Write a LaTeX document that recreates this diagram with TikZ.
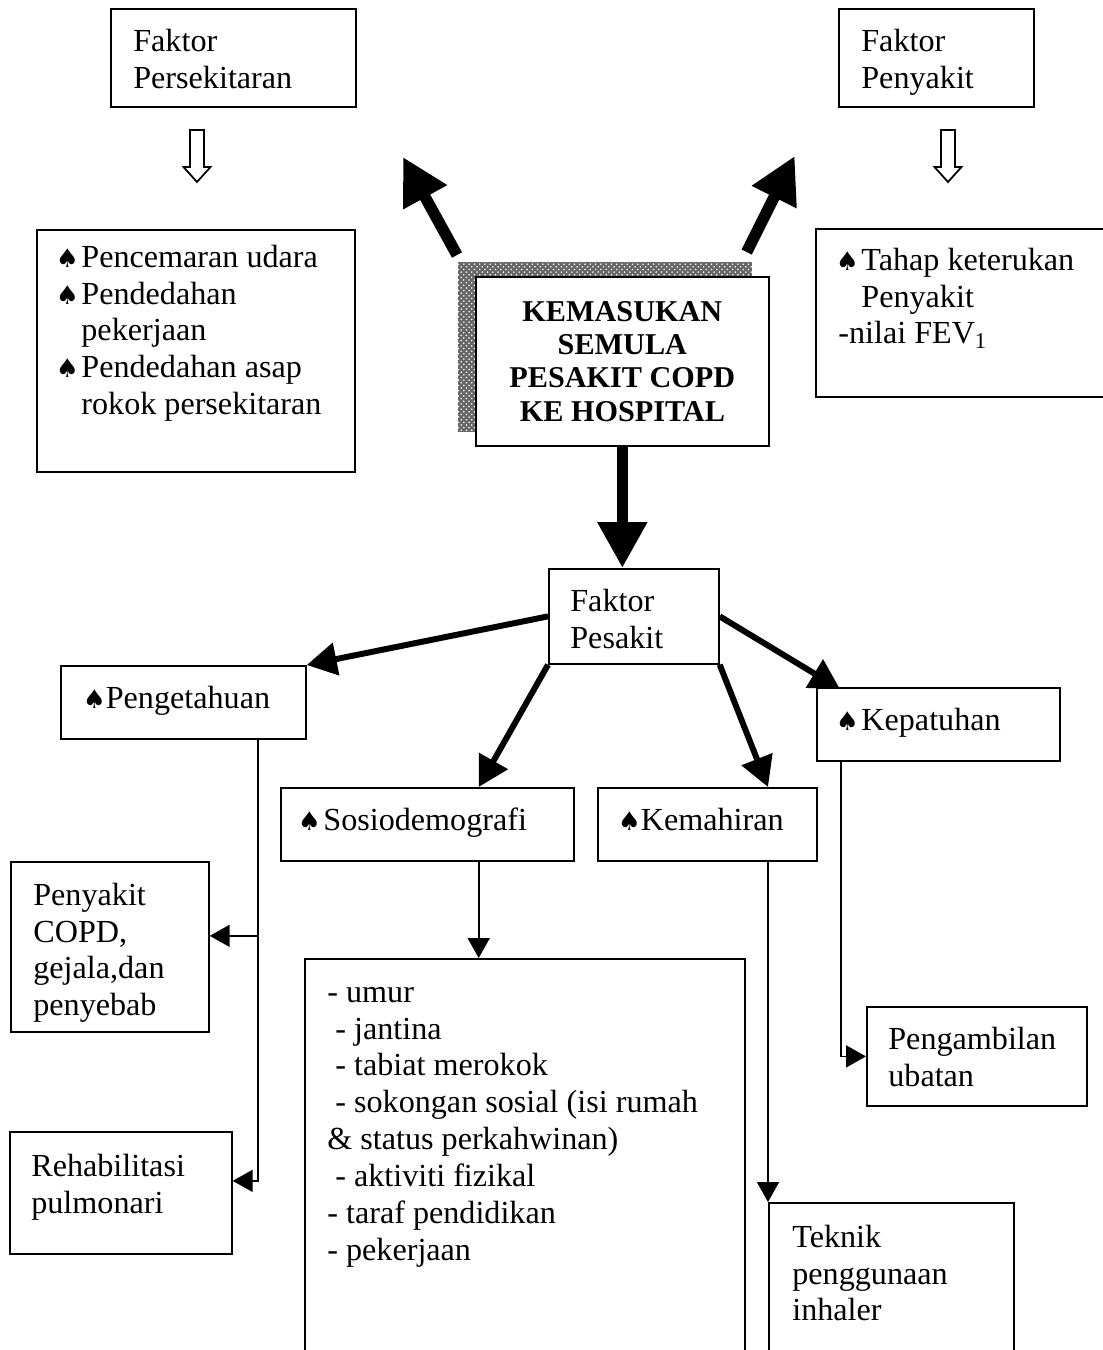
\documentclass[tikz,border=0pt]{standalone}
\usepackage{graphicx}
\usepackage{fontspec}
\setmainfont{Liberation Serif}
\newfontfamily\symfont{DejaVu Sans}
\usetikzlibrary{positioning,arrows.meta,calc,patterns}
\newcommand{\spade}{\kern-0.08em\scalebox{0.8}{\symfont ♠}}
\newcommand{\spd}{\spade\hspace{0.08em}}
\newcommand{\ind}{\hphantom{\spd}}

\begin{document}
\begin{tikzpicture}[
        x=0.02cm, y=-0.02cm,
        box/.style={draw, line width=1pt, anchor=north west, inner sep=0pt},
        txt/.style={font=\fontsize{18.3}{21}\selectfont, align=left, inner sep=0pt},
        thinarr/.style={line width=1pt, -{Triangle[length=4mm, width=4.4mm]}},
        medarr/.style={line width=3.4pt, -{Triangle[length=6mm, width=6.4mm]}},
        bigarr/.style={line width=6.5pt, -{Triangle[length=9.2mm, width=9.4mm]}}
    ]
        \clip (0,0) rectangle (1103,1350);

        % Top boxes
        \node[box, minimum width=49mm, minimum height=19.6mm] (fpers) at (110,8) {};
        \node[txt, below right=3.4mm and 4.6mm of fpers.north west] (fpers-t) {\strut Faktor\\Persekitaran};
        \node[box, minimum width=39mm, minimum height=19.6mm] (fpeny) at (838,8) {};
        \node[txt, below right=3.4mm and 4.6mm of fpeny.north west] (fpeny-t) {\strut Faktor\\Penyakit};

        % Hollow arrows
        \foreach \ax in {197,948}
            \draw[line width=1pt, line join=miter] (\ax-7,130) -- (\ax+7,130) -- (\ax+7,167) -- (\ax+13.5,167)
                -- (\ax,182) -- (\ax-13.5,167) -- (\ax-7,167) -- cycle;

        % Lists of factors
        \node[box, minimum width=63.6mm, minimum height=48.4mm] (envlist) at (36,229) {};
        \node[txt, below right=2.4mm and 4.4mm of envlist.north west] (envlist-t)
            {\strut\spd Pencemaran udara\\\spd Pendedahan\\\ind pekerjaan\\\spd Pendedahan asap\\\ind rokok persekitaran};
        \node[box, minimum width=59mm, minimum height=33.6mm] (dislist) at (815,228) {};
        \node[txt, below right=3.2mm and 4.6mm of dislist.north west] (dislist-t)
            {\strut\spd Tahap keterukan\\\ind Penyakit\\-nilai FEV\textsubscript{1}};

        % Central box with shadow
        \fill[black!60] (458,262) rectangle (752,432);
        \fill[pattern=crosshatch dots, pattern color=white] (458,262) rectangle (752,432);
        \node[box, fill=white, minimum width=58.6mm, minimum height=33.8mm, align=center,
            font=\fontsize{17.2}{19}\selectfont\bfseries] (hosp) at (475,276)
            {KEMASUKAN\\SEMULA\\PESAKIT COPD\\KE HOSPITAL};
        \coordinate (ltail) at ($(hosp.north west)+(-18,-21)$);
        \coordinate (lhead) at ($(hosp.north west)+(-72,-119)$);
        \coordinate (rtail) at ($(hosp.north east)+(-23,-24)$);
        \coordinate (rhead) at ($(hosp.north east)+(25,-120)$);
        \draw[bigarr] (ltail) -- (lhead);
        \draw[bigarr] (rtail) -- (rhead);

        % Patient factors
        \node[box, minimum width=34mm, minimum height=19mm] (fpes) at (548,568) {};
        \node[txt, below right=3.4mm and 4.4mm of fpes.north west] (fpes-t) {\strut Faktor\\Pesakit};
        \draw[bigarr] (hosp.south) -- (hosp.south |- fpes.north);

        \node[box, minimum width=49mm, minimum height=14.6mm] (peng) at (60,665) {};
        \node[txt, below right=3.4mm and 5mm of peng.north west] (peng-t) {\strut\spade Pengetahuan};
        \node[box, minimum width=48.6mm, minimum height=14.6mm] (kep) at (816,687) {};
        \node[txt, below right=3.4mm and 4.4mm of kep.north west] (kep-t) {\strut\spd Kepatuhan};
        \node[box, minimum width=58.6mm, minimum height=14.6mm] (sosio) at (280,787) {};
        \node[txt, below right=3.4mm and 4mm of sosio.north west] (sosio-t) {\strut\spd Sosiodemografi};
        \node[box, minimum width=43.8mm, minimum height=14.6mm] (kem) at (597,787) {};
        \node[txt, below right=3.4mm and 4.6mm of kem.north west] (kem-t) {\strut\spade Kemahiran};

        % Lower boxes
        \node[box, minimum width=39.6mm, minimum height=34mm] (copd) at (10,861) {};
        \node[txt, below right=3.6mm and 4.6mm of copd.north west] (copd-t) {\strut Penyakit\\COPD,\\gejala,dan\\penyebab};
        \node[box, minimum width=44.4mm, minimum height=24.4mm] (rehab) at (9,1131) {};
        \node[txt, below right=3.8mm and 4.4mm of rehab.north west] (rehab-t) {\strut Rehabilitasi\\pulmonari};
        \node[box, minimum width=88mm, minimum height=80.4mm] (demo) at (304,958) {};
        \node[txt, below right=3.6mm and 4.6mm of demo.north west] (demo-t)
            {\strut- umur\\\ - jantina\\\ - tabiat merokok\\\ - sokongan sosial (isi rumah\\\&~status perkahwinan)\\\ - aktiviti fizikal\\- taraf pendidikan\\- pekerjaan};
        \node[box, minimum width=49mm, minimum height=32mm] (tek) at (768,1202) {};
        \node[txt, below right=3.8mm and 4.8mm of tek.north west] (tek-t) {\strut Teknik\\penggunaan\\inhaler};
        \node[box, minimum width=44mm, minimum height=19.8mm] (ubat) at (866,1006) {};
        \node[txt, below right=3.4mm and 4.4mm of ubat.north west] (ubat-t) {\strut Pengambilan\\ubatan};

        % Arrows from Faktor Pesakit
        \coordinate (sosiox) at ($(sosio.south east)+(-96,0)$);
        \draw[medarr] (fpes.west) -- (peng.north east);
        \draw[medarr] (fpes.east) -- ($(kep.north west)+(24,2)$);
        \draw[medarr] (fpes.south west) -- (sosio.north -| sosiox);
        \draw[medarr] (fpes.south east) -- (kem.north -| tek.north west);

        % Thin connectors
        \coordinate (pdown) at ($(peng.south east)+(-49,0)$);
        \coordinate (copdin) at ([yshift=2.2mm]copd.east);
        \draw[line width=1pt] (pdown) -- (pdown |- copdin);
        \draw[thinarr] (pdown |- copdin) -- (copdin);
        \draw[thinarr] (pdown) |- ([yshift=2.4mm]rehab.east);
        \draw[thinarr] (sosiox) -- (sosiox |- demo.north);
        \draw[thinarr] (kem.south -| tek.north west) -- (tek.north west);
        \draw[thinarr] ($(kep.south west)+(25,0)$) |- (ubat.west);

    \end{tikzpicture}
\end{document}
